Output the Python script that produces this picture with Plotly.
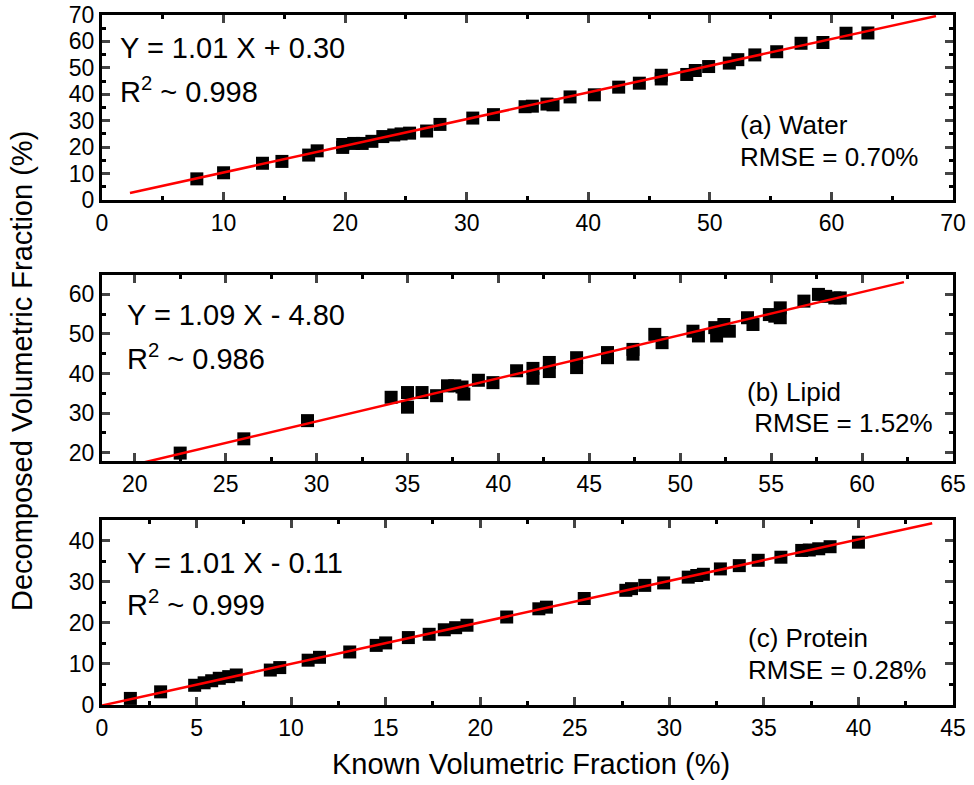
import plotly.graph_objects as go

# ---------------- data ----------------
water_x = [7.8, 10.0, 13.2, 14.8, 17.0, 17.7, 19.8, 19.8, 20.7, 21.4, 22.2, 23.1, 24.0, 24.6, 25.3,
           26.7, 27.8, 30.5, 32.2, 34.8, 35.4, 36.6, 37.1, 38.5, 40.5, 42.5, 44.2, 46.0, 46.0, 48.1,
           48.8, 49.9, 51.6, 52.3, 53.7, 55.5, 57.5, 59.3, 61.2, 63.0]
water_y = [8.0, 10.3, 13.9, 14.6, 17.0, 18.6, 19.9, 21.0, 21.4, 21.4, 22.2, 24.0, 24.6, 25.0, 25.3,
           26.1, 28.6, 31.0, 32.3, 35.3, 35.5, 36.3, 36.0, 39.0, 39.8, 42.7, 44.2, 45.8, 47.2, 47.5,
           49.0, 50.5, 51.8, 53.1, 54.9, 56.1, 59.3, 59.6, 63.1, 63.2]

lipid_x = [22.5, 26.0, 29.5, 34.1, 35.0, 35.0, 35.8, 36.6, 37.2, 37.6, 38.0, 38.1, 38.9, 39.7, 41.0,
           41.9, 41.9, 42.8, 42.8, 44.3, 44.3, 46.0, 46.0, 47.4, 47.4, 48.6, 49.0, 50.7, 51.0, 51.9,
           52.0, 52.4, 52.7, 53.7, 54.0, 54.9, 55.2, 55.5, 55.5, 56.8, 57.6, 58.0, 58.5, 58.8]
lipid_y = [19.9, 23.5, 28.1, 34.0, 35.2, 31.5, 35.2, 34.4, 36.9, 36.9, 36.6, 34.8, 38.3, 37.7, 40.7,
           41.3, 38.8, 42.8, 40.5, 44.0, 41.5, 45.3, 44.0, 46.1, 44.9, 49.9, 47.8, 50.7, 49.5, 51.6,
           49.5, 52.4, 50.7, 54.1, 52.4, 54.9, 54.5, 56.6, 54.1, 58.3, 60.0, 59.5, 59.1, 59.1]

protein_x = [1.5, 3.1, 4.9, 5.4, 5.8, 6.2, 6.7, 7.1, 8.9, 9.4, 10.9, 11.5, 13.1, 14.5, 15.0, 16.2,
             17.3, 18.1, 18.7, 19.3, 21.4, 23.1, 23.5, 25.5, 27.7, 28.0, 28.7, 29.7, 31.0, 31.45,
             31.8, 32.7, 33.7, 34.7, 35.9, 37.0, 37.4, 37.9, 38.5, 40.0]
protein_y = [1.6, 3.2, 4.8, 5.4, 5.9, 6.5, 6.9, 7.3, 8.5, 9.1, 10.9, 11.6, 12.9, 14.5, 15.1, 16.4,
             17.2, 18.3, 18.8, 19.4, 21.4, 23.4, 23.8, 25.9, 27.9, 28.3, 29.1, 29.7, 31.1, 31.5,
             31.8, 33.1, 33.9, 35.2, 35.95, 37.6, 37.7, 38.0, 38.5, 39.6]

# fit lines: slope, intercept, x extent
water_fit = (1.01, 0.30, [2.3, 68.6])
lipid_fit = (1.09, -4.80, [20.5, 62.3])
protein_fit = (1.01, -0.11, [0.0, 43.9])

eq_text = ["Y = 1.01 X + 0.30", "Y = 1.09 X - 4.80", "Y = 1.01 X - 0.11"]
r2_text = ["R<sup>2</sup> ~ 0.998", "R<sup>2</sup> ~ 0.986", "R<sup>2</sup> ~ 0.999"]
name_text = ["(a) Water", "(b) Lipid", "(c) Protein"]
rmse_text = ["RMSE = 0.70%", " RMSE = 1.52%", "RMSE = 0.28%"]

# ---------------- layout geometry ----------------
W, H = 974, 785
ML, MR, MT, MB = 102, 21, 15, 80
PW, PH = W - ML - MR, H - MT - MB

def px2x(px):
    return (px - ML) / PW

def px2y(py):
    return (H - MB - py) / PH

FONT = "Liberation Sans, Arial, sans-serif"

fig = go.Figure()

panels = [
    (water_x, water_y, water_fit, "x", "y"),
    (lipid_x, lipid_y, lipid_fit, "x2", "y2"),
    (protein_x, protein_y, protein_fit, "x3", "y3"),
]
for xs, ys, (m, b, ext), xa, ya in panels:
    fig.add_trace(go.Scatter(x=xs, y=ys, mode="markers", xaxis=xa, yaxis=ya,
                             marker=dict(symbol="square", size=13, color="black"),
                             showlegend=False, cliponaxis=True))
    fig.add_trace(go.Scatter(x=ext, y=[m * e + b for e in ext], mode="lines",
                             xaxis=xa, yaxis=ya, line=dict(color="#ff0000", width=2.5),
                             showlegend=False))

def axis(rng, dtick, minor, anchor, dom):
    return dict(range=rng, dtick=dtick, tick0=0, ticks="inside", ticklen=8, tickwidth=3,
                showline=True, linewidth=3, linecolor="black", mirror="allticks",
                showgrid=False, zeroline=False, anchor=anchor, domain=dom, automargin=False,
                tickfont=dict(family=FONT, size=23, color="black"),
                minor=dict(dtick=minor, tick0=0, ticks="inside", ticklen=4, tickwidth=2.5,
                           tickcolor="black", showgrid=False))

fig.update_layout(
    width=W, height=H,
    margin=dict(l=ML, r=MR, t=MT, b=MB, autoexpand=False),
    paper_bgcolor="white", plot_bgcolor="white",
    font=dict(family=FONT, color="black"),
    xaxis=axis([0, 70], 10, 5, "y", [0, 1]),
    yaxis=axis([0, 70], 10, 5, "x", [px2y(200), px2y(15)]),
    xaxis2=axis([18.2, 65], 5, 2.5, "y2", [0, 1]),
    yaxis2=axis([17.9, 64.9], 10, 5, "x2", [px2y(461), px2y(275)]),
    xaxis3=axis([0, 45], 5, 2.5, "y3", [0, 1]),
    yaxis3=axis([0, 45], 10, 5, "x3", [px2y(705), px2y(520)]),
)

ann = []
eq_pos = [(118, 48, 90), (125, 315, 357), (125, 563, 603)]
nm_pos = [(738, 125, 157), (745, 392, 423), (746, 638, 670)]
for i in range(3):
    x0, y1, y2 = eq_pos[i]
    ann.append(dict(x=px2x(x0), y=px2y(y1), text=eq_text[i]))
    ann.append(dict(x=px2x(x0), y=px2y(y2), text=r2_text[i]))
    x0, y1, y2 = nm_pos[i]
    ann.append(dict(x=px2x(x0), y=px2y(y1), text=name_text[i], size=26))
    ann.append(dict(x=px2x(x0), y=px2y(y2), text=rmse_text[i], size=26))

for a in ann:
    fig.add_annotation(x=a["x"], y=a["y"], xref="paper", yref="paper", text=a["text"],
                       showarrow=False, xanchor="left", yanchor="middle",
                       font=dict(family=FONT, size=a.get("size", 29), color="black"))

fig.add_annotation(x=px2x(531), y=px2y(764), xref="paper", yref="paper",
                   text="Known Volumetric Fraction (%)", showarrow=False,
                   xanchor="center", yanchor="middle",
                   font=dict(family=FONT, size=29, color="black"))
fig.add_annotation(x=px2x(22), y=px2y(371), xref="paper", yref="paper",
                   text="Decomposed Volumetric Fraction (%)", showarrow=False, textangle=-90,
                   xanchor="center", yanchor="middle",
                   font=dict(family=FONT, size=29, color="black"))

fig.write_html("out.html", config={"displayModeBar": False},
               post_script="document.body.style.margin='0';document.body.style.overflow='hidden';")
